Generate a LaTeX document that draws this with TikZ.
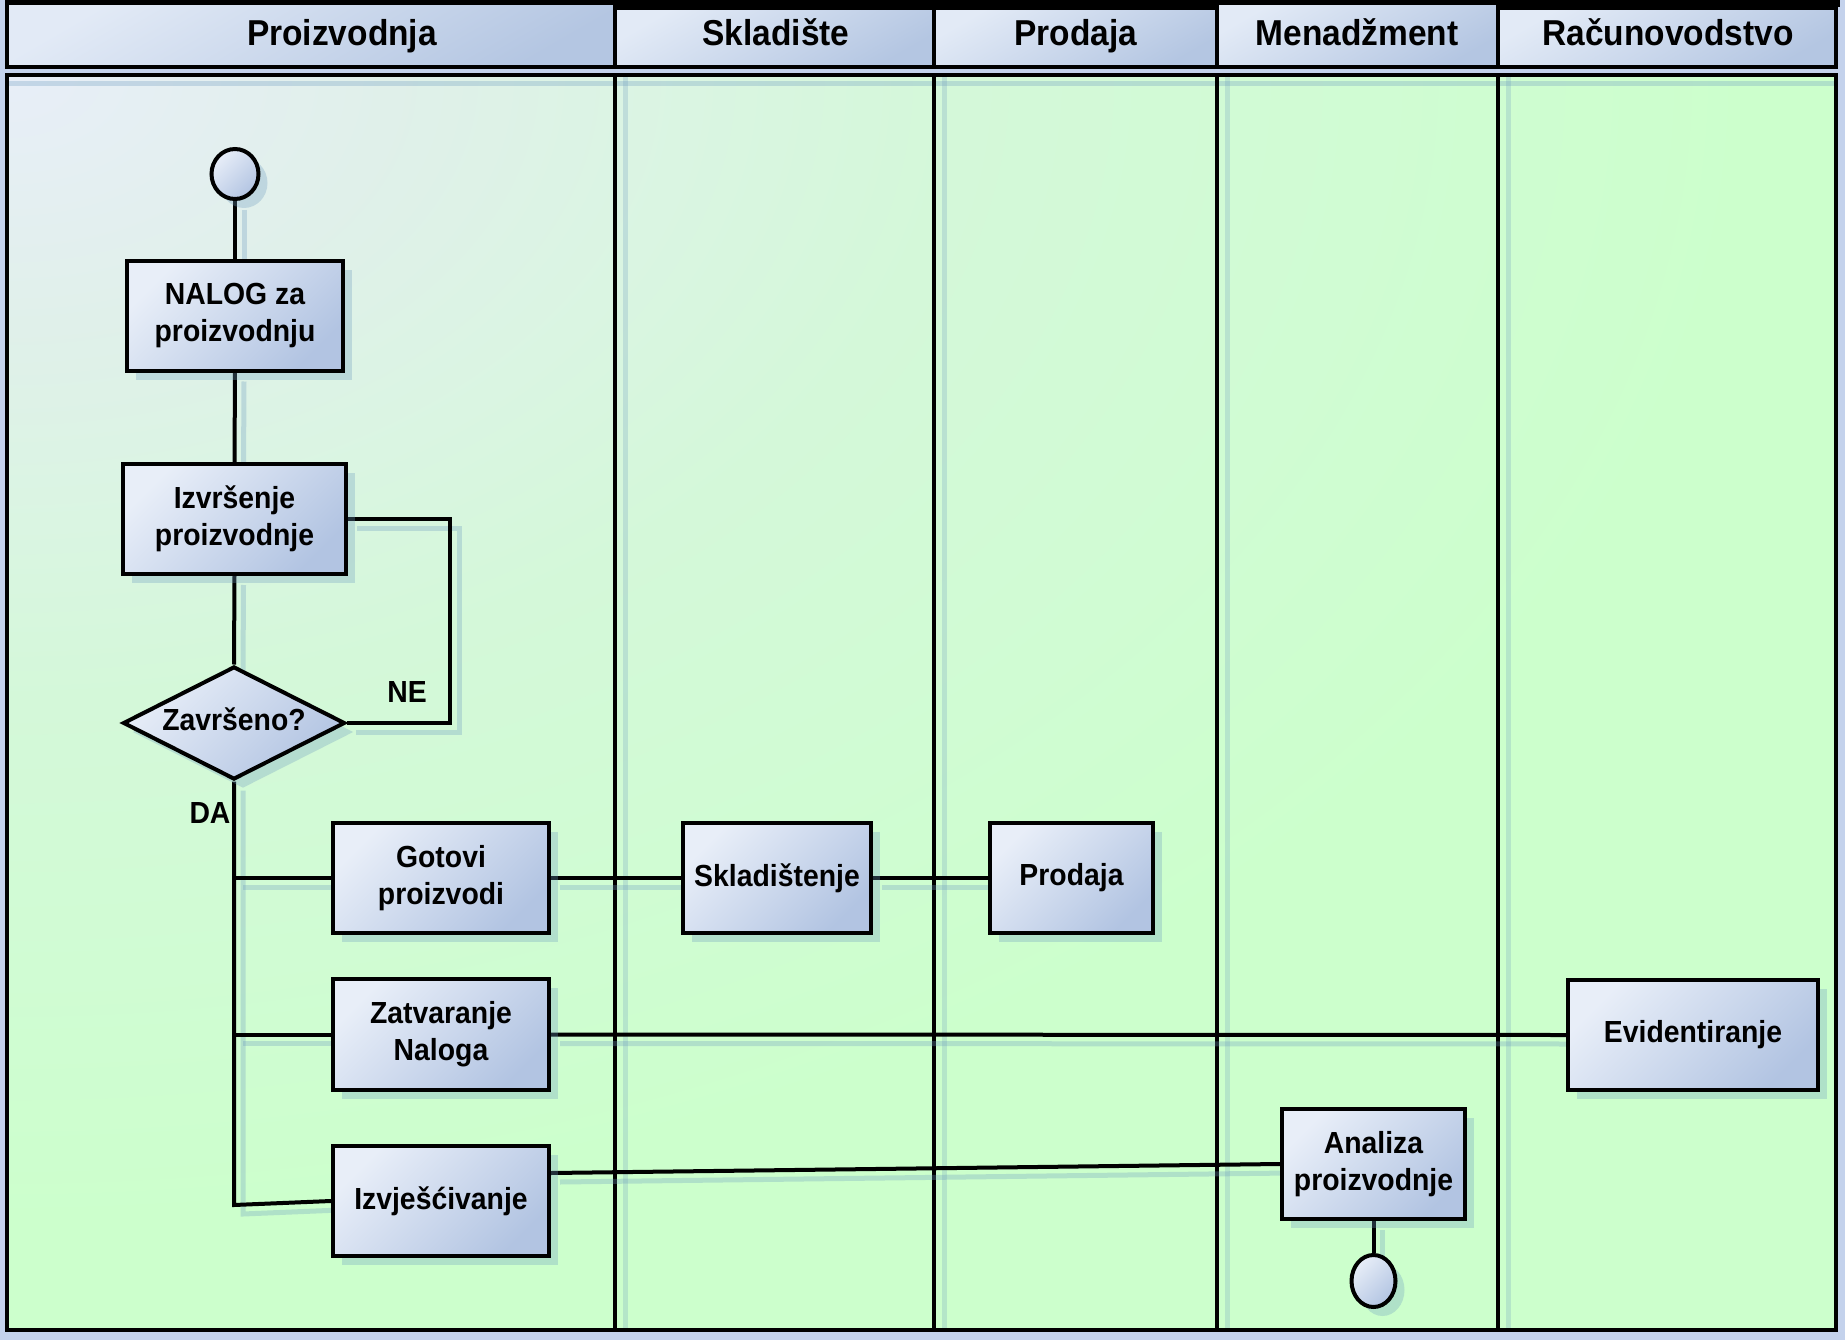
\documentclass[tikz,border=0pt]{standalone}
\usepackage{fontspec}
\newfontfamily\lanefont{Liberation Sans}[FakeStretch=0.93]
\usetikzlibrary{shapes.geometric,shadows}

\definecolor{pagebg}{HTML}{C4D2EC}
\definecolor{bgA}{HTML}{E8EEF8}
\definecolor{bgB}{HTML}{E0F0EA}
\definecolor{bgC}{HTML}{DAF5E2}
\definecolor{bgD}{HTML}{D4F8D9}
\definecolor{bgE}{HTML}{D0FCD3}
\definecolor{bgF}{HTML}{CCFFCC}
\definecolor{boxA}{HTML}{E8EEF8}
\definecolor{boxB}{HTML}{B2C4E2}
\definecolor{headA}{HTML}{E2EAF6}
\definecolor{headB}{HTML}{B4C6E2}
\definecolor{shadowc}{HTML}{6E9CC0}

% soft fill of the swimlane body, light in the upper left corner
\pgfdeclareradialshading{lanefill}{\pgfpointorigin}{color(0bp)=(bgA); color(5bp)=(bgB); color(9bp)=(bgC); color(12.5bp)=(bgD); color(18bp)=(bgE); color(23bp)=(bgF); color(50bp)=(bgF)}

\pgfdeclarelayer{back}
\pgfdeclarelayer{wires}
\pgfsetlayers{back,wires,main}

\begin{document}
\begin{tikzpicture}[x=1pt,y=-1pt,
  nodetext/.style={font=\lanefont\bfseries\fontsize{30.5}{37}\selectfont, text=black},
  boxshadow/.style={drop shadow={shadow xshift=9pt, shadow yshift=-9pt, fill=shadowc, opacity=0.3}},
  proc/.style={nodetext, draw=black, line width=4pt, top color=boxA, bottom color=boxB,
    shading angle=45, align=center, inner sep=0pt, minimum height=110pt, boxshadow},
  term/.style={ellipse, draw=black, line width=4pt, top color=boxA, bottom color=boxB,
    shading angle=45, inner sep=0pt, boxshadow},
  decision/.style={diamond, aspect=2, nodetext, draw=black, line width=4pt, top color=boxA,
    bottom color=boxB, shading angle=45, inner sep=0pt, text height=22pt, text depth=8pt, boxshadow},
  wire/.style={line width=4pt, black,
    preaction={draw, shadowc, opacity=0.3, line width=5pt, transform canvas={xshift=9pt, yshift=-9pt}}},
  laneline/.style={line width=4pt, black,
    preaction={draw, shadowc, opacity=0.25, line width=5pt, transform canvas={xshift=10pt}}},
  headbox/.style={draw=black, line width=4pt, top color=headA, bottom color=headB, shading angle=30},
  headtext/.style={font=\lanefont\bfseries\fontsize{36}{40}\selectfont, text=black, anchor=base, inner sep=0pt},
  lbl/.style={nodetext, inner sep=0pt}
]
\useasboundingbox (0,0) rectangle (1845,1340);

% ---------- swimlanes ----------
\begin{pgfonlayer}{back}
  \fill[pagebg] (0,0) rectangle (1845,1340);
  \begin{scope}
    \clip (7,75) rectangle (1836,1330);
    \fill[bgF] (7,75) rectangle (1836,1330);
    \shade[shading=lanefill] (7,75) ellipse [x radius=1900pt, y radius=1250pt];
  \end{scope}
  \fill[black] (5,0) rectangle (1840,7);
  \path[headbox] (7,3) rectangle (615,67);
  \path[headbox] (615,8) rectangle (934,67);
  \path[headbox] (934,8) rectangle (1217,67);
  \path[headbox] (1217,3) rectangle (1498,67);
  \path[headbox] (1498,8) rectangle (1836,67);
  \draw[shadowc, opacity=0.3, line width=5pt] (9,84) -- (1834,84);
  \foreach \lx in {615,934,1217,1498}
    \draw[laneline] (\lx,75) -- (\lx,1330);
  \draw[line width=4pt] (7,75) rectangle (1836,1330);
\end{pgfonlayer}

\node[headtext] (hProizv) at (342,46) {Proizvodnja};
\node[headtext] (hSklad)  at (776,46) {Skladište};
\node[headtext] (hProd)   at (1076,46) {Prodaja};
\node[headtext] (hMen)    at (1357,46) {Menadžment};
\node[headtext] (hRacun)  at (1668,46) {Računovodstvo};

% ---------- flow nodes ----------
\node[term, minimum width=47pt, minimum height=50pt] (start) at (235,174) {};
\node[proc, minimum width=216pt, minimum height=109pt] (nalog) at (235,316) {NALOG za\\proizvodnju};
\node[proc, minimum width=223pt] (izr) at (234.5,519) {Izvršenje\\proizvodnje};
\node[decision, minimum width=222pt, minimum height=113pt] (dia) at (234,723) {Završeno?};
\node[proc, minimum width=216pt] (got) at (441,878) {Gotovi\\proizvodi};
\node[proc, minimum width=188pt] (skl) at (777,878) {Skladištenje};
\node[proc, minimum width=163pt] (prod) at (1071.5,878) {Prodaja};
\node[proc, minimum width=216pt, minimum height=111pt] (zat) at (441,1034.5) {Zatvaranje\\Naloga};
\node[proc, minimum width=250pt] (evid) at (1693,1035) {Evidentiranje};
\node[proc, minimum width=216pt] (izv) at (441,1201) {Izvješćivanje};
\node[proc, minimum width=183pt] (ana) at (1373.5,1164) {Analiza\\proizvodnje};
\node[term, minimum width=44pt, minimum height=52pt] (end) at (1373.5,1281) {};

\node[lbl] (ne) at (407,692) {NE};
\node[lbl] (da) at (210,813) {DA};
\coordinate (daend) at (234,1205);

% ---------- connectors ----------
\begin{pgfonlayer}{wires}
  \draw[wire] (start.south) -- (nalog.north);
  \draw[wire] (nalog.south) -- (izr.north);
  \draw[wire] (izr.south) -- (dia.north);
  \draw[wire] (izr.east) -- ++(102,0) |- (dia.east);
  \draw[wire] (dia.south) -- (daend) -- (izv.west);
  \draw[wire] (dia.south |- got.west) -- (got.west);
  \draw[wire] (dia.south |- zat.west) -- (zat.west);
  \draw[wire] (got.east) -- (skl.west);
  \draw[wire] (skl.east) -- (prod.west);
  \draw[wire] (zat.east) -- (evid.west);
  \draw[wire] ([yshift=28pt]izv.east) -- (ana.west);
  \draw[wire] (ana.south) -- (end.north);
\end{pgfonlayer}
\end{tikzpicture}
\end{document}
